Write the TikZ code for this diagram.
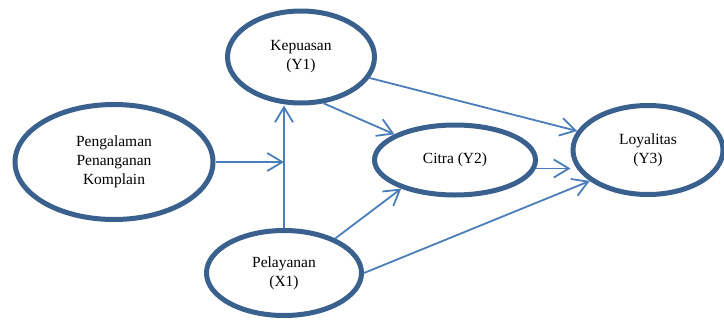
\documentclass[tikz,border=0pt]{standalone}
\usepackage{fontspec}
\setmainfont{Liberation Serif}
\usetikzlibrary{shapes.geometric,arrows.meta}
\definecolor{ringblue}{RGB}{58,96,142}
\definecolor{arrowblue}{RGB}{74,126,187}
\begin{document}
\begin{tikzpicture}[x=1pt,y=-1pt,
  var/.style={ellipse,draw=ringblue,line width=5pt,inner sep=0pt,align=center,
    font=\fontsize{15.5}{19}\selectfont},
  arr/.style={draw=arrowblue,line width=1.8pt,-{Straight Barb[length=15pt,width=18pt,line width=1.8pt]}}]
\useasboundingbox (0,0) rectangle (724,322);
\node[var,minimum width=147pt,minimum height=92pt] (kep) at (301,57) {Kepuasan\\(Y1)};
\node[var,minimum width=198pt,minimum height=115pt] (peng) at (114,162) {Pengalaman\\Penanganan\\Komplain};
\node[var,minimum width=155pt,minimum height=85pt] (pel) at (284,273) {Pelayanan\\(X1)};
\node[var,minimum width=161pt,minimum height=70pt] (cit) at (455,160) {Citra (Y2)};
\node[var,minimum width=150pt,minimum height=89pt] (loy) at (648,150) {Loyalitas\\(Y3)};
\coordinate (mid) at (pel.north |- peng.east);
\draw[arr] (pel.north) -- (kep.south -| pel.north);
\draw[arr] (peng.east) -- (mid);
\draw[arr] (kep.-64) -- (cit.157);
\draw[arr] (kep.-17) -- (loy.165);
\draw[arr] (cit.-6) -- (cit.-6 -| loy.west);
\draw[arr] (pel.34) -- (cit.208);
\draw[arr] (pel.east) -- (loy.208);
\end{tikzpicture}
\end{document}
